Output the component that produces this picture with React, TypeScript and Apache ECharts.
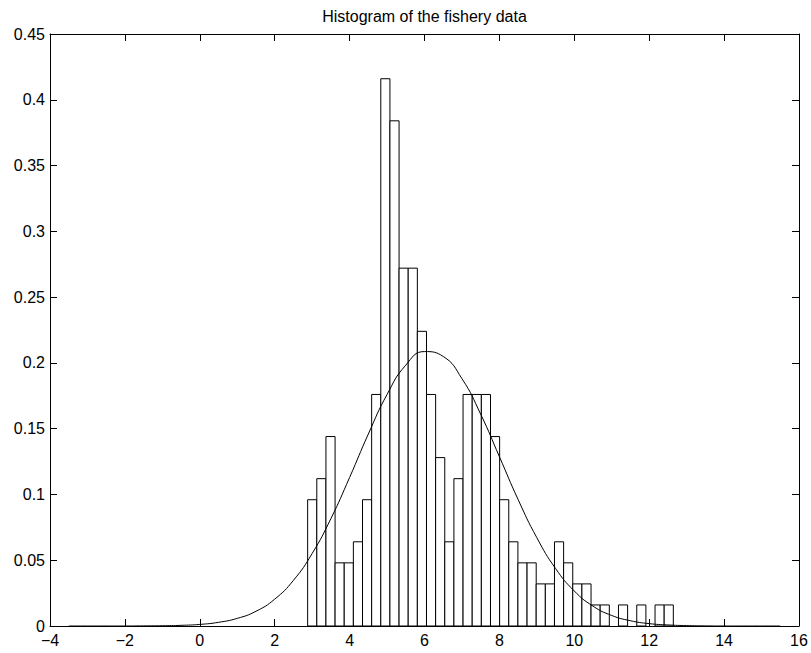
import React, { useEffect, useRef } from "react";
import * as echarts from "echarts";

// Histogram bins
const binStart = 2.88;
const binWidth = 0.2441;
const binHeights = [
  0.096, 0.112, 0.144, 0.048, 0.048, 0.064, 0.096, 0.176, 0.416, 0.384,
  0.272, 0.272, 0.224, 0.176, 0.128, 0.064, 0.112, 0.176, 0.176, 0.176,
  0.144, 0.096, 0.064, 0.048, 0.048, 0.032, 0.032, 0.064, 0.048, 0.032,
  0.032, 0.016, 0.016, 0, 0.016, 0, 0.016, 0, 0.016, 0.016,
];

// Fitted density curve
const curveX = [
  -3.5, -3, -2.5, -2, -1.5, -1, -0.5, 0, 0.5, 1, 1.5, 2, 2.5, 3, 3.5, 4, 4.5,
  5, 5.5, 6, 6.5, 7, 7.5, 8, 8.5, 9, 9.5, 10, 10.5, 11, 11.5, 12, 12.5, 13,
  13.5, 14, 14.5, 15, 15.5,
];
const curveY = [
  0, 0, 0, 0, 0.0001, 0.0002, 0.0005, 0.0012, 0.0028, 0.0058, 0.0112, 0.0204,
  0.0347, 0.0551, 0.0816, 0.1129, 0.1459, 0.176, 0.1983, 0.2086, 0.2049, 0.188,
  0.161, 0.1287, 0.0961, 0.0671, 0.0437, 0.0266, 0.0151, 0.008, 0.004, 0.0018,
  0.0008, 0.0003, 0.0001, 0, 0, 0, 0,
];

const titleText = "Histogram of the fishery data";
const xMin = -4, xMax = 16, xStep = 2;
const yMin = 0, yMax = 0.45, yStep = 0.05;

const FONT = "'Liberation Sans', Arial, Helvetica, sans-serif";

export default function App() {
  const ref = useRef<HTMLDivElement>(null);
  useEffect(() => {
    document.body.style.margin = "0";
    const chart = echarts.init(ref.current!, null, { renderer: "svg" });
    const bins = binHeights.map((h, i) => [
      binStart + i * binWidth,
      binStart + (i + 1) * binWidth,
      h,
    ]);
    const curve = curveX.map((x, i) => [x, curveY[i]]);
    const axisLine = { show: true, onZero: false, lineStyle: { color: "#000", width: 1 } };
    const axisTick = { show: true, inside: true, length: 7, lineStyle: { color: "#000", width: 1 } };
    const minus = (v: number) => String(+v.toFixed(2)).replace("-", "\u2212");
    chart.setOption({
      animation: false,
      backgroundColor: "#fff",
      grid: { left: 50, right: 12, top: 34, bottom: 27, containLabel: false },
      graphic: [
        {
          type: "text",
          x: 424.5,
          y: 8,
          style: {
            text: titleText,
            fontSize: 16,
            fontFamily: FONT,
            fill: "#000",
            textAlign: "center",
            textVerticalAlign: "top",
          },
        },
      ],
      xAxis: [
        {
          type: "value", min: xMin, max: xMax, interval: xStep, position: "bottom",
          axisLine, axisTick,
          axisLabel: { color: "#000", fontSize: 16, fontFamily: FONT, margin: 6, formatter: minus },
          splitLine: { show: false },
        },
        {
          type: "value", min: xMin, max: xMax, interval: xStep, position: "top",
          axisLine, axisTick, axisLabel: { show: false }, splitLine: { show: false },
        },
      ],
      yAxis: [
        {
          type: "value", min: yMin, max: yMax, interval: yStep, position: "left",
          axisLine, axisTick,
          axisLabel: { color: "#000", fontSize: 16, fontFamily: FONT, margin: 5, formatter: minus },
          splitLine: { show: false },
        },
        {
          type: "value", min: yMin, max: yMax, interval: yStep, position: "right",
          axisLine, axisTick, axisLabel: { show: false }, splitLine: { show: false },
        },
      ],
      series: [
        {
          type: "custom",
          xAxisIndex: 0,
          yAxisIndex: 0,
          data: bins,
          encode: { x: [0, 1], y: 2 },
          renderItem: (params: any, api: any) => {
            const h = api.value(2);
            if (!(h > 0)) return null;
            const p0 = api.coord([api.value(0), h]);
            const p1 = api.coord([api.value(1), 0]);
            return {
              type: "rect",
              shape: { x: p0[0], y: p0[1], width: p1[0] - p0[0], height: p1[1] - p0[1] },
              style: { fill: "#fff", stroke: "#000", lineWidth: 1 },
            };
          },
        },
        {
          type: "line",
          xAxisIndex: 0,
          yAxisIndex: 0,
          data: curve,
          showSymbol: false,
          smooth: 0.5,
          lineStyle: { color: "#000", width: 1 },
          z: 3,
        },
      ],
    });
    return () => chart.dispose();
  }, []);
  return (
    <div
      ref={ref}
      style={{ position: "fixed", left: 0, top: 0, width: 811, height: 653 }}
    />
  );
}
